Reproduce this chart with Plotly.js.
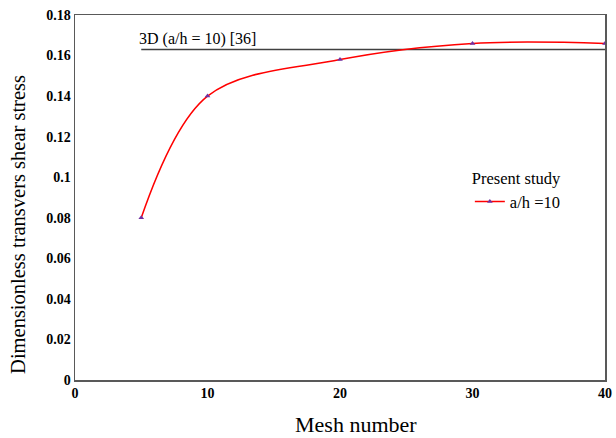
<!DOCTYPE html>
<html>
<head>
<meta charset="utf-8">
<script src="https://cdn.plot.ly/plotly-3.0.1.min.js"></script>
<style>html,body{margin:0;padding:0;background:#fff}#chart{width:616px;height:438px}</style>
</head>
<body>
<div id="chart"></div>
<script>
const meshNumbers = [5, 10, 20, 30, 40];
const presentStudy = [0.08, 0.14, 0.158, 0.166, 0.166];
const refX = [5, 40];
const refY = [0.163, 0.163];
const refLabel = "3D (a/h = 10) [36]";
const yTickVals = [0, 0.02, 0.04, 0.06, 0.08, 0.1, 0.12, 0.14, 0.16, 0.18];
const yTickText = ["0", "0.02", "0.04", "0.06", "0.08", "0.1", "0.12", "0.14", "0.16", "0.18"];
const xTickVals = [0, 10, 20, 30, 40];
const xTitle = "Mesh number";
const yTitle = "Dimensionless transvers shear stress";

const serif = "'Liberation Serif', 'Times New Roman', Times, serif";

const traces = [
  {
    x: refX, y: refY, mode: "lines", showlegend: false, hoverinfo: "skip",
    line: {color: "#404040", width: 1.5}
  },
  {
    x: meshNumbers, y: presentStudy, mode: "lines+markers", name: "a/h =10",
    line: {color: "#FF0000", width: 1.5, shape: "spline", smoothing: 1},
    marker: {symbol: "triangle-up", color: "#7030A0", size: 5}
  }
];

const layout = {
  width: 616, height: 438,
  margin: {l: 75, r: 11, t: 15, b: 58},
  paper_bgcolor: "#fff", plot_bgcolor: "#fff",
  font: {family: serif, color: "#000"},
  xaxis: {
    range: [0, 40], tickvals: xTickVals, ticktext: xTickVals.map(String),
    showgrid: false, zeroline: false, ticks: "",
    showline: true, linecolor: "#595959", linewidth: 1.5, mirror: true,
    tickfont: {family: serif, size: 14, color: "#000", weight: "bold"}
  },
  yaxis: {
    range: [0, 0.18], tickvals: yTickVals, ticktext: yTickText,
    showgrid: false, zeroline: false, ticks: "",
    showline: true, linecolor: "#595959", linewidth: 1.5, mirror: true,
    tickfont: {family: serif, size: 14, color: "#000", weight: "bold"}
  },
  showlegend: true,
  legend: {
    x: 0.745, y: 0.595, xanchor: "left", yanchor: "top",
    bgcolor: "rgba(0,0,0,0)",
    font: {family: serif, size: 16.5, color: "#000"},
    title: {text: "Present study", font: {family: serif, size: 16.5, color: "#000"}, side: "top"},
    itemwidth: 30
  },
  annotations: [
    {x: refX[0], y: refY[0], xref: "x", yref: "y", xanchor: "left", yanchor: "bottom",
     text: refLabel, showarrow: false, yshift: -1, xshift: -4,
     font: {family: serif, size: 16, color: "#000"}},
    {x: 0.53, y: -0.123, xref: "paper", yref: "paper", xanchor: "center", yanchor: "middle",
     text: xTitle, showarrow: false, font: {family: serif, size: 22, color: "#000"}},
    {x: -0.108, y: 0.427, xref: "paper", yref: "paper", xanchor: "center", yanchor: "middle",
     text: yTitle, textangle: -90, showarrow: false, font: {family: serif, size: 20.5, color: "#000"}}
  ]
};

Plotly.newPlot("chart", traces, layout, {displayModeBar: false, staticPlot: true});
</script>
</body>
</html>
